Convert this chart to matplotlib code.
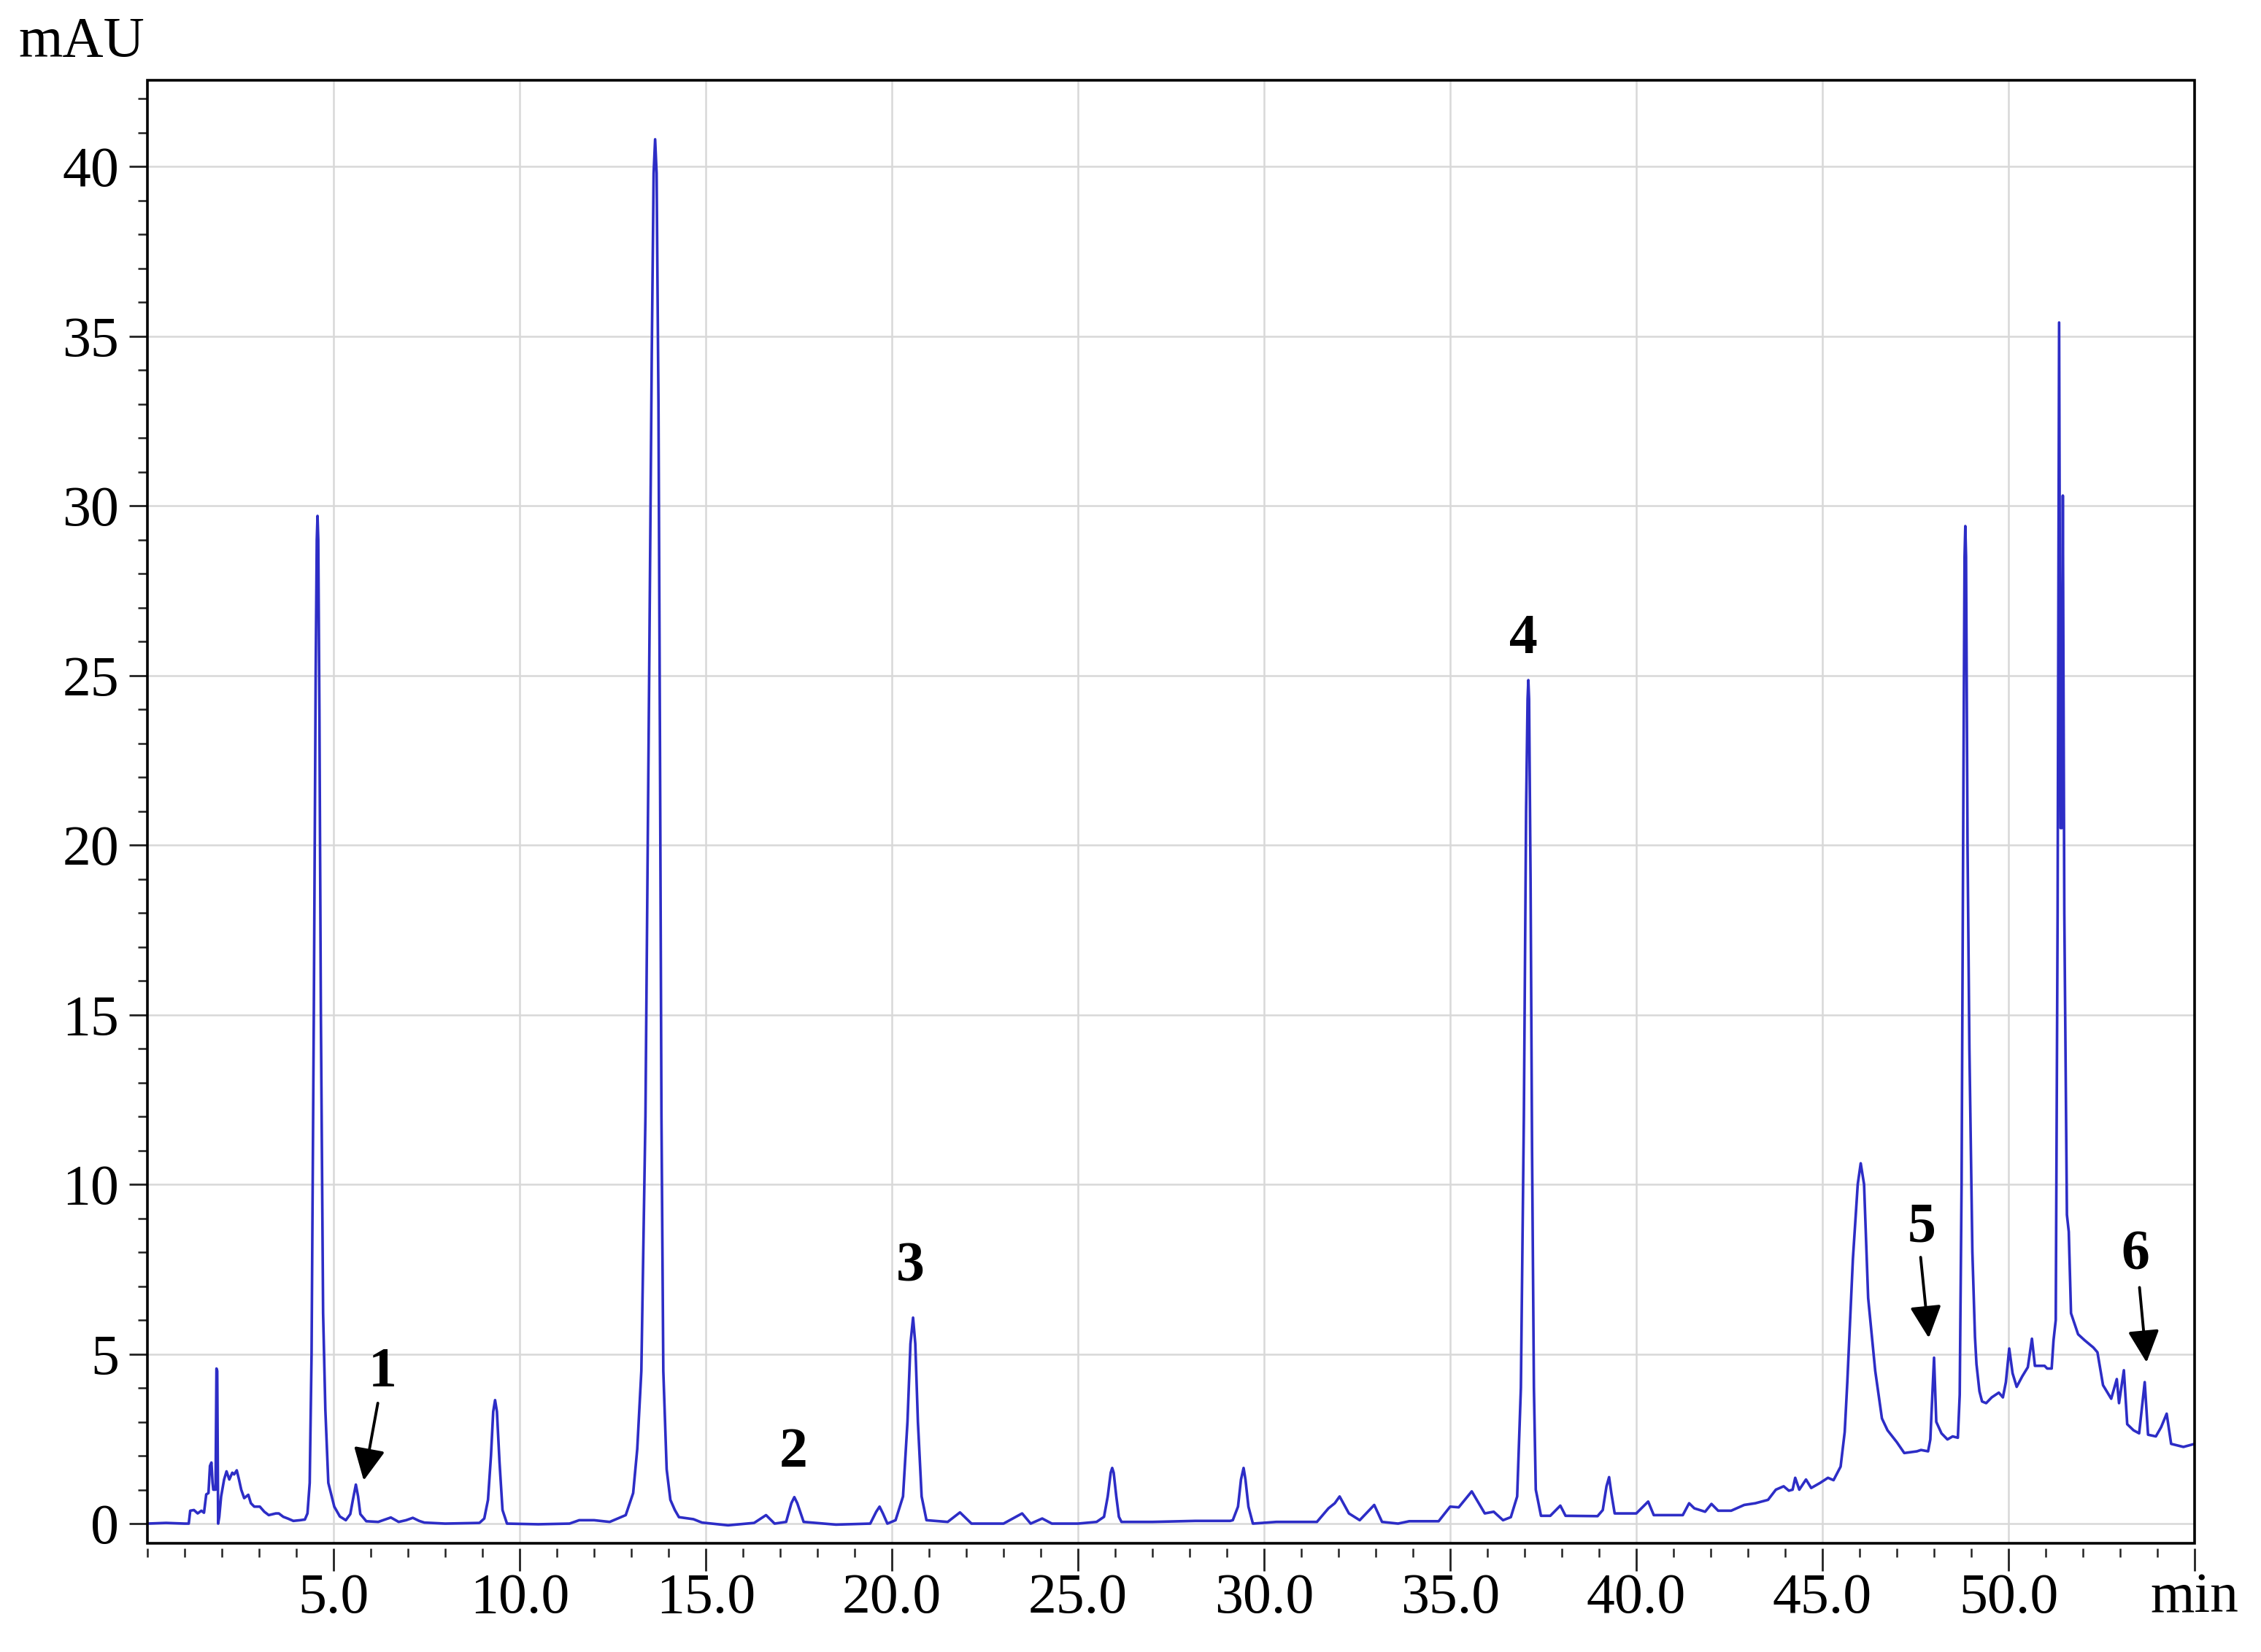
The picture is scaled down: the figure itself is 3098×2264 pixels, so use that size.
import matplotlib
matplotlib.use("Agg")
import matplotlib.pyplot as plt
from matplotlib.patches import Rectangle
from matplotlib.ticker import FixedLocator, FixedFormatter, MultipleLocator

plt.rcParams['font.family'] = ['Liberation Serif', 'DejaVu Serif']

# ---------------- data ----------------
time_min = [
    0.0, 0.5, 1.0, 1.11, 1.15, 1.25, 1.35, 1.45, 1.52, 1.58, 1.64, 1.68, 1.72, 1.75, 1.77, 1.83,
    1.855, 1.875, 1.90, 1.93, 1.98, 2.06, 2.125, 2.2, 2.28, 2.33, 2.40, 2.46, 2.52, 2.6, 2.71,
    2.78, 2.87, 3.02, 3.14, 3.26, 3.45, 3.53, 3.65, 3.77, 3.92, 4.1, 4.23, 4.30, 4.36, 4.41,
    4.47, 4.52, 4.55, 4.57, 4.59, 4.62, 4.66, 4.72, 4.78, 4.86, 5.02, 5.17, 5.33, 5.45, 5.52,
    5.6, 5.66, 5.72, 5.88, 6.2, 6.54, 6.75, 6.95, 7.13, 7.3, 7.44, 8.0, 8.92, 9.05, 9.15, 9.23,
    9.29, 9.34, 9.39, 9.46, 9.54, 9.66, 10.5, 11.34, 11.6, 12.0, 12.42, 12.85, 13.05, 13.16,
    13.27, 13.38, 13.48, 13.55, 13.60, 13.64, 13.68, 13.73, 13.77, 13.81, 13.86, 13.95, 14.05,
    14.17, 14.28, 14.67, 14.9, 15.6, 16.3, 16.62, 16.85, 17.16, 17.3, 17.38, 17.46, 17.63,
    18.5, 19.42, 19.58, 19.67, 19.76, 19.88, 20.1, 20.3, 20.42, 20.5, 20.57, 20.63, 20.7,
    20.8, 20.93, 21.5, 21.83, 22.14, 23.0, 23.5, 23.73, 24.04, 24.3, 25.0, 25.5, 25.7, 25.8,
    25.88, 25.92, 25.96, 26.03, 26.1, 26.17, 27.0, 28.15, 29.09, 29.16, 29.3, 29.38, 29.45,
    29.5, 29.58, 29.7, 30.33, 31.42, 31.73, 31.9, 32.03, 32.28, 32.57, 32.96, 33.17, 33.6,
    33.9, 34.69, 35.0, 35.23, 35.58, 35.93, 36.17, 36.42, 36.63, 36.8, 36.9, 36.98, 37.04,
    37.08, 37.1, 37.12, 37.16, 37.2, 37.25, 37.3, 37.44, 37.69, 37.96, 38.1, 38.96, 39.1,
    39.2, 39.27, 39.33, 39.42, 40.0, 40.32, 40.47, 41.25, 41.42, 41.56, 41.85, 42.02, 42.2,
    42.55, 42.9, 43.2, 43.54, 43.75, 43.96, 44.1, 44.2, 44.27, 44.38, 44.56, 44.7, 44.94,
    45.15, 45.3, 45.49, 45.6, 45.67, 45.82, 45.95, 46.03, 46.12, 46.23, 46.42, 46.6, 46.75,
    47.0, 47.2, 47.54, 47.65, 47.84, 47.9, 48.0, 48.06, 48.2, 48.36, 48.5, 48.64, 48.69,
    48.74, 48.79, 48.82, 48.84, 48.86, 48.9, 48.95, 49.03, 49.1, 49.14, 49.22, 49.29, 49.4,
    49.55, 49.74, 49.85, 49.93, 50.02, 50.11, 50.22, 50.37, 50.52, 50.63, 50.71, 50.97,
    51.04, 51.16, 51.21, 51.27, 51.32, 51.36, 51.40, 51.43, 51.46, 51.50, 51.57, 51.62,
    51.68, 51.87, 52.05, 52.28, 52.39, 52.54, 52.76, 52.91, 52.97, 53.1, 53.19, 53.36,
    53.51, 53.66, 53.75, 53.96, 54.1, 54.25, 54.37, 54.7, 55.0,
]
absorbance_mau = [
    0.0, 0.02, 0.0, 0.0, 0.38, 0.40, 0.30, 0.38, 0.32, 0.86, 0.90, 1.7, 1.8, 1.2, 1.0, 1.0,
    4.57, 4.5, 0.0, 0.2, 0.8, 1.3, 1.54, 1.3, 1.5, 1.45, 1.57, 1.3, 1.0, 0.75, 0.85,
    0.6, 0.5, 0.5, 0.35, 0.25, 0.3, 0.3, 0.2, 0.15, 0.08, 0.1, 0.12, 0.3, 1.2, 5.0,
    15.0, 25.0, 29.0, 29.7, 29.0, 24.0, 15.0, 6.2, 3.36, 1.2, 0.5, 0.21, 0.1, 0.28, 0.7,
    1.15, 0.8, 0.28, 0.07, 0.05, 0.18, 0.05, 0.1, 0.17, 0.08, 0.03, 0.0, 0.02, 0.15, 0.7, 2.0,
    3.3, 3.64, 3.3, 1.8, 0.4, 0.0, -0.02, 0.0, 0.1, 0.1, 0.05, 0.25, 0.9, 2.2,
    4.5, 12.0, 25.0, 34.5, 39.8, 40.8, 39.8, 33.0, 23.0, 12.0, 4.5, 1.6, 0.7,
    0.4, 0.19, 0.13, 0.03, -0.05, 0.02, 0.25, 0.0, 0.05, 0.6, 0.78, 0.6, 0.05,
    -0.03, 0.0, 0.35, 0.5, 0.3, 0.0, 0.1, 0.8, 3.0, 5.3, 6.07, 5.3, 3.0,
    0.8, 0.1, 0.05, 0.33, 0.0, 0.0, 0.3, 0.0, 0.15, 0.0, 0.0, 0.05, 0.2, 0.8,
    1.5, 1.64, 1.5, 0.8, 0.2, 0.05, 0.05, 0.08, 0.08, 0.1, 0.5, 1.3, 1.64,
    1.3, 0.5, 0.0, 0.05, 0.05, 0.45, 0.6, 0.8, 0.3, 0.1, 0.55, 0.05, 0.0,
    0.07, 0.07, 0.5, 0.48, 0.95, 0.3, 0.35, 0.1, 0.19, 0.8, 4.0, 12.0, 21.0,
    24.3, 24.86, 24.3, 19.0, 11.0, 4.0, 1.0, 0.23, 0.23, 0.53, 0.23, 0.22, 0.4,
    1.1, 1.37, 0.9, 0.3, 0.3, 0.65, 0.25, 0.25, 0.6, 0.45, 0.35, 0.58, 0.38,
    0.38, 0.55, 0.6, 0.7, 1.0, 1.1, 0.97, 1.0, 1.35, 1.0, 1.3, 1.05, 1.2,
    1.35, 1.28, 1.68, 2.7, 4.17, 7.8, 10.0, 10.62, 10.0, 6.65, 4.5, 3.1, 2.75,
    2.4, 2.08, 2.13, 2.17, 2.13, 2.48, 4.89, 3.0, 2.66, 2.48, 2.57, 2.53, 3.8,
    10.0, 22.0, 28.5, 29.4, 28.5, 20.0, 14.0, 8.0, 5.5, 4.7, 3.9, 3.6, 3.55,
    3.72, 3.86, 3.72, 4.17, 5.16, 4.43, 4.03, 4.34, 4.61, 5.45, 4.65, 4.65,
    4.57, 4.57, 5.4, 6.0, 18.0, 35.4, 20.5, 20.5, 30.3, 18.0, 9.1, 8.6,
    6.2, 5.58, 5.4, 5.19, 5.05, 4.08, 3.68, 4.26, 3.55, 4.52, 2.93, 2.75,
    2.66, 4.17, 2.62, 2.57, 2.84, 3.24, 2.35, 2.26, 2.35,
]

x_tick_values = [5, 10, 15, 20, 25, 30, 35, 40, 45, 50, 55]
x_tick_labels = ["5.0", "10.0", "15.0", "20.0", "25.0", "30.0", "35.0", "40.0",
                 "45.0", "50.0", "min"]
y_tick_values = [0, 5, 10, 15, 20, 25, 30, 35, 40]
y_tick_labels = ["0", "5", "10", "15", "20", "25", "30", "35", "40"]

peak_labels = ["1", "2", "3", "4", "5", "6"]
label_x = [6.31, 17.36, 20.50, 36.97, 47.67, 53.40]
label_y = [4.45, 2.08, 7.55, 26.05, 8.70, 7.89]
arrow_tail_x = [6.19, 47.64, 53.52]
arrow_tail_y = [3.55, 7.85, 6.96]
arrow_head_x = [5.81, 47.86, 53.71]
arrow_head_y = [1.27, 5.47, 4.75]

# ---------------- figure ----------------
W, H, DPI = 3098, 2264, 200
fig = plt.figure(figsize=(W / DPI, H / DPI), dpi=DPI)
ax = fig.add_axes([202 / W, 1 - 2115 / H, (3007 - 202) / W, (2115 - 110) / H])

ax.plot(time_min, absorbance_mau, color='#2d2dc6', lw=1.3, zorder=3)

ax.set_xlim(0, 55)
ax.set_ylim(-0.58, 42.54)

ax.xaxis.set_major_locator(FixedLocator(x_tick_values))
ax.xaxis.set_major_formatter(FixedFormatter(x_tick_labels))
ax.xaxis.set_minor_locator(MultipleLocator(1))
ax.yaxis.set_major_locator(FixedLocator(y_tick_values))
ax.yaxis.set_major_formatter(FixedFormatter(y_tick_labels))
ax.yaxis.set_minor_locator(MultipleLocator(1))

ax.grid(which='major', color='#d8d8d8', lw=0.9, zorder=0)

for s in ['top', 'right', 'left']:
    ax.spines[s].set_visible(False)
ax.spines['bottom'].set_position(('outward', 2.5))
ax.spines['bottom'].set_visible(False)
ax.add_patch(Rectangle((0, 0), 1, 1, transform=ax.transAxes, fill=False,
                       lw=1.3, edgecolor='black', clip_on=False, zorder=5))

ax.tick_params(axis='x', which='major', direction='out', length=11, width=1.0,
               pad=1.0, labelsize=28, colors='#222222', labelcolor='black')
ax.tick_params(axis='x', which='minor', direction='out', length=4.4, width=0.9,
               colors='#222222')
ax.tick_params(axis='y', which='major', direction='out', length=9, width=1.0,
               pad=5, labelsize=28, colors='#222222', labelcolor='black')
ax.tick_params(axis='y', which='minor', direction='out', length=4.7, width=0.9,
               colors='#222222')

fig.text(25 / W, 1 - 77 / H, "mAU", ha='left', va='baseline', fontsize=28)

for lab, lx, ly in zip(peak_labels, label_x, label_y):
    ax.text(lx, ly, lab, ha='center', va='center', fontsize=28,
            fontweight='bold', zorder=6)

for tx, ty, hx, hy in zip(arrow_tail_x, arrow_tail_y, arrow_head_x, arrow_head_y):
    ax.annotate('', xy=(hx, hy), xytext=(tx, ty),
                arrowprops=dict(arrowstyle='-|>,head_length=0.45,head_width=0.22',
                                mutation_scale=30, color='black', lw=1.4,
                                shrinkA=0, shrinkB=0), zorder=6)

fig.savefig("out.png", dpi=DPI, facecolor='white')
